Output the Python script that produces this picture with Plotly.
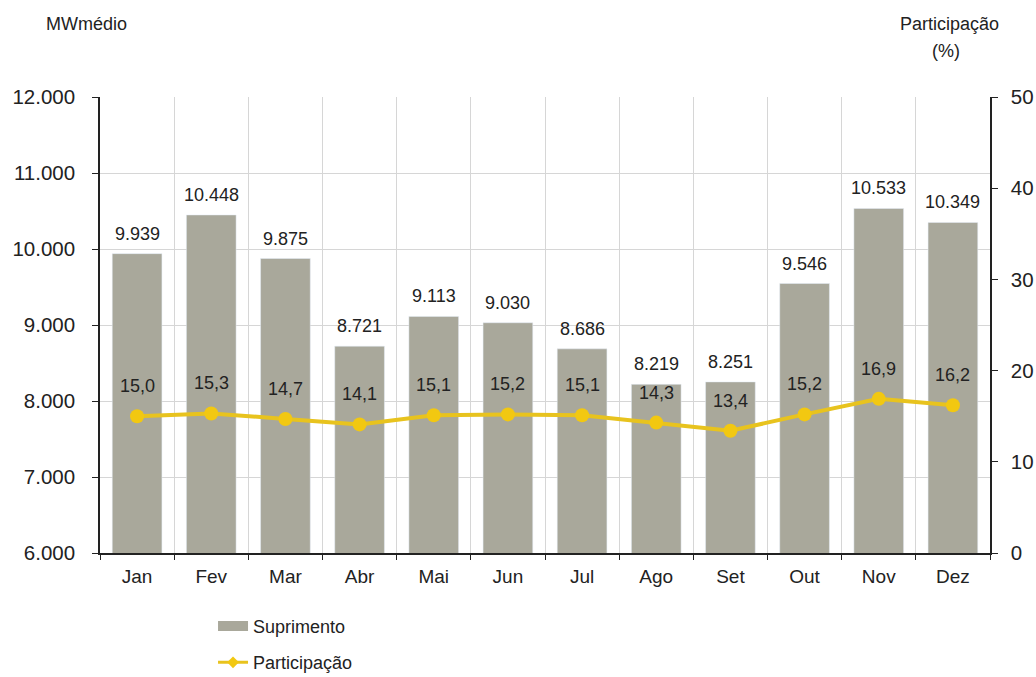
import plotly.graph_objects as go

months = ["Jan", "Fev", "Mar", "Abr", "Mai", "Jun", "Jul", "Ago", "Set", "Out", "Nov", "Dez"]
suprimento = [9939, 10448, 9875, 8721, 9113, 9030, 8686, 8219, 8251, 9546, 10533, 10349]
participacao = [15.0, 15.3, 14.7, 14.1, 15.1, 15.2, 15.1, 14.3, 13.4, 15.2, 16.9, 16.2]
left_ticks = [6000, 7000, 8000, 9000, 10000, 11000, 12000]
right_ticks = [0, 10, 20, 30, 40, 50]


def fmt_int(v):
    return f"{v:,}".replace(",", ".")


def fmt_dec(v):
    return f"{v:.1f}".replace(".", ",")


FONT = "Liberation Sans, Arial, sans-serif"
BAR = "#a9a89b"
LINE = "#e8c31e"
MARK = "#f2c811"
TXT = "#222222"
GRID = "#d6d6d6"

fig = go.Figure()
fig.add_trace(go.Bar(x=months, y=suprimento, name="Suprimento", marker_color=BAR,
                     width=0.67, yaxis="y", showlegend=False))
fig.add_trace(go.Scatter(x=months, y=participacao, name="Participação", yaxis="y2",
                         mode="lines+markers", line=dict(color=LINE, width=4),
                         marker=dict(color=MARK, size=14, symbol="circle"),
                         showlegend=False))
# legend proxies
fig.add_trace(go.Scatter(x=[None], y=[None], name="Suprimento", mode="lines",
                         line=dict(color=BAR, width=10), legendgroup="a", yaxis="y"))
fig.add_trace(go.Scatter(x=[None], y=[None], name="Participação", mode="lines+markers",
                         line=dict(color=LINE, width=3),
                         marker=dict(color=MARK, size=9, symbol="diamond"),
                         legendgroup="b", yaxis="y2"))

annotations = []
for m, v in zip(months, suprimento):
    annotations.append(dict(x=m, y=v, xref="x", yref="y", text=fmt_int(v), showarrow=False,
                            yshift=20, font=dict(size=18, color=TXT, family=FONT)))
for m, v in zip(months, participacao):
    annotations.append(dict(x=m, y=v, xref="x", yref="y2", text=fmt_dec(v), showarrow=False,
                            yshift=30, font=dict(size=18, color=TXT, family=FONT)))
annotations.append(dict(x=-0.0157, y=1.1606, xref="paper", yref="paper", text="MWmédio",
                        showarrow=False, xanchor="center", yanchor="middle",
                        font=dict(size=18, color=TXT)))
annotations.append(dict(x=0.955, y=1.1606, xref="paper", yref="paper", text="Participação",
                        showarrow=False, xanchor="center", yanchor="middle",
                        font=dict(size=18, color=TXT)))
annotations.append(dict(x=0.9506, y=1.1, xref="paper", yref="paper", text="(%)",
                        showarrow=False, xanchor="center", yanchor="middle",
                        font=dict(size=18, color=TXT)))

fig.update_layout(
    width=1036, height=677,
    margin=dict(l=100, r=46, t=97, b=124, autoexpand=False),
    paper_bgcolor="white", plot_bgcolor="white",
    font=dict(family=FONT, size=18, color=TXT),
    showlegend=True,
    legend=dict(x=0.127, y=-0.12, xanchor="left", yanchor="top", orientation="v",
                font=dict(size=18, color=TXT), bgcolor="rgba(0,0,0,0)",
                tracegroupgap=10, itemwidth=30),
    xaxis=dict(range=[-0.5, 11.5], tickson="boundaries", showgrid=True, gridcolor=GRID,
               gridwidth=1, showline=True, linecolor=TXT, linewidth=1.5, ticks="outside",
               ticklen=5, tickcolor=TXT, tickfont=dict(size=19),
               ticklabelstandoff=5),
    yaxis=dict(range=[6000, 12000], tickvals=left_ticks, ticktext=[fmt_int(t) for t in left_ticks],
               showgrid=True, gridcolor=GRID, showline=True, linecolor=TXT, linewidth=1.5,
               ticks="outside", ticklen=6, tickcolor=TXT, tickfont=dict(size=20.5), zeroline=False,
               ticklabelstandoff=13),
    yaxis2=dict(range=[0, 50], tickvals=right_ticks, overlaying="y", side="right",
                showgrid=False, showline=True, linecolor=TXT, linewidth=1.5,
                ticks="outside", ticklen=6, tickcolor=TXT, tickfont=dict(size=20.5), zeroline=False,
                ticklabelstandoff=9),
    annotations=annotations,
)
fig.write_html("out.html", config={"displayModeBar": False},
               post_script="document.body.style.margin='0';document.body.style.overflow='hidden';")
